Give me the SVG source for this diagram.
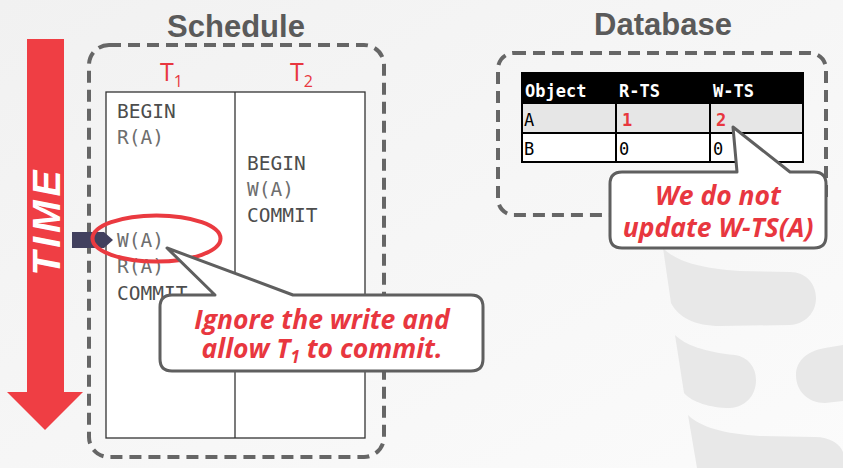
<svg xmlns="http://www.w3.org/2000/svg" width="843" height="468" viewBox="0 0 843 468">
<defs>
<linearGradient id="bg" x1="0" y1="0" x2="1" y2="1">
<stop offset="0" stop-color="#f1f1f1"/>
<stop offset="1" stop-color="#fbfbfb"/>
</linearGradient>
</defs>
<style>
.title{font-family:"Liberation Sans",Arial,sans-serif;font-weight:bold;font-size:31px;fill:#5a5a5a;text-anchor:middle}
.dash{fill:none;stroke:#666;stroke-width:4;stroke-dasharray:12 7}
.mono{font-family:"DejaVu Sans Mono","Liberation Mono",monospace;font-size:19.5px}
.kw{fill:#4d4d4d}
.op{fill:#6e6e6e}
.tlabel{font-family:"Open Sans","Liberation Sans",sans-serif;font-size:25px;fill:#e8373f}
.cell{font-family:"DejaVu Sans Mono","Liberation Mono",monospace;font-size:17px;fill:#000}
.hdr{font-family:"DejaVu Sans Mono","Liberation Mono",monospace;font-size:17px;font-weight:bold;fill:#fff}
.red{fill:#e8373f;font-weight:bold}
.callout{fill:#fff;stroke:#5f5f5f;stroke-width:3;stroke-linejoin:round}
.ctext{font-family:"Open Sans",Lato,sans-serif;font-weight:bold;font-style:italic;font-size:26.5px;fill:#e8373f;text-anchor:middle}
.wm{fill:#e8e8e8}
</style>
<rect width="843" height="468" fill="url(#bg)"/>
<g id="watermark">
<path class="wm" d="M663,248 C675,260 695,268 740,271 L790,272 C806,272 816,284 816,298 C816,313 805,324 790,325 L720,326 C695,326 678,317 671,303 Z"/>
<path class="wm" d="M675,335 C685,345 705,352 735,355 C748,357 756,367 756,380 C756,396 745,407 730,408 C710,408 692,402 684,393 Z"/>
<path class="wm" d="M843,345 L825,348 C806,351 796,362 796,375 C796,391 808,403 825,403 L843,401 Z"/>
<path class="wm" d="M688,415 C700,427 725,434 760,436 L815,437 C830,437 840,444 843,452 L843,468 L697,468 Z"/>
</g>
<g id="time-arrow">
<path d="M27,39 L64,39 L64,392 L83,392 L45,430 L7,392 L27,392 Z" fill="#ef3e44"/>
<text transform="translate(60,221) rotate(-90)" x="0" y="0" text-anchor="middle" font-family="'Liberation Sans',Arial,sans-serif" font-weight="bold" font-style="italic" font-size="39" letter-spacing="4" fill="#fff">TIME</text>
</g>
<g id="schedule">
<text class="title" x="236" y="37">Schedule</text>
<rect class="dash" x="89" y="45" width="295" height="412" rx="20"/>
<rect x="106" y="92" width="259" height="346" fill="#fff" stroke="#333" stroke-width="1.3"/>
<line x1="235" y1="92" x2="235" y2="438" stroke="#333" stroke-width="1.3"/>
<text class="tlabel" x="160" y="81">T<tspan font-size="16" dy="6">1</tspan></text>
<text class="tlabel" x="290" y="81">T<tspan font-size="16" dy="6">2</tspan></text>
</g>
<g id="t1-ops" class="mono">
<text class="kw" x="117" y="118">BEGIN</text>
<text class="op" x="117" y="144">R(A)</text>
<text class="op" x="117" y="247">W(A)</text>
<text class="op" x="117" y="273">R(A)</text>
<text class="kw" x="117" y="300">COMMIT</text>
</g>
<g id="t2-ops" class="mono">
<text class="kw" x="247" y="170">BEGIN</text>
<text class="op" x="247" y="196">W(A)</text>
<text class="kw" x="247" y="222">COMMIT</text>
</g>
<g id="database">
<text class="title" x="663" y="35">Database</text>
<rect class="dash" x="498" y="53" width="328" height="162" rx="16"/>
<rect x="522" y="73" width="281" height="30" fill="#000"/>
<rect x="522" y="103" width="281" height="30" fill="#e6e6e6"/>
<rect x="522" y="133" width="281" height="29" fill="#fff"/>
<g fill="none" stroke="#000" stroke-width="2">
<rect x="522" y="73" width="281" height="89"/>
<line x1="522" y1="103" x2="803" y2="103"/>
<line x1="522" y1="133" x2="803" y2="133"/>
<line x1="616" y1="103" x2="616" y2="162"/>
<line x1="710" y1="103" x2="710" y2="162"/>
</g>
<text class="hdr" x="525" y="97">Object</text>
<text class="hdr" x="619" y="97">R-TS</text>
<text class="hdr" x="713" y="97">W-TS</text>
<text class="cell" x="524" y="126">A</text>
<text class="cell red" x="622" y="126">1</text>
<text class="cell red" x="716" y="126">2</text>
<text class="cell" x="524" y="155">B</text>
<text class="cell" x="619" y="155">0</text>
<text class="cell" x="713" y="155">0</text>
</g>
<g id="marker">
<path d="M72,232 L104,232 L113,240 L104,248 L72,248 Z" fill="#41405e"/>
</g>
<g id="highlight">
<ellipse cx="156.5" cy="238.5" rx="64" ry="23" fill="none" stroke="#ea3a40" stroke-width="4"/>
</g>
<g id="callout-ignore">
<path class="callout" d="M172,295 L215,295 L167,248 L293,295 L471,295 Q483,295 483,307 L483,359 Q483,371 471,371 L172,371 Q160,371 160,359 L160,307 Q160,295 172,295 Z"/>
<text class="ctext" x="322" y="329"><tspan x="322" y="329">Ignore the write and</tspan><tspan x="322" y="358">allow T</tspan><tspan font-size="17" dy="5">1</tspan><tspan dy="-5"> to commit.</tspan></text>
</g>
<g id="callout-wts">
<path class="callout" d="M622,172 L737,172 L733,127 L790,172 L814,172 Q826,172 826,184 L826,236 Q826,248 814,248 L622,248 Q610,248 610,236 L610,184 Q610,172 622,172 Z"/>
<text class="ctext" x="718" y="205"><tspan x="718" y="205">We do not</tspan><tspan x="718" y="237">update W-TS(A)</tspan></text>
</g>
</svg>
